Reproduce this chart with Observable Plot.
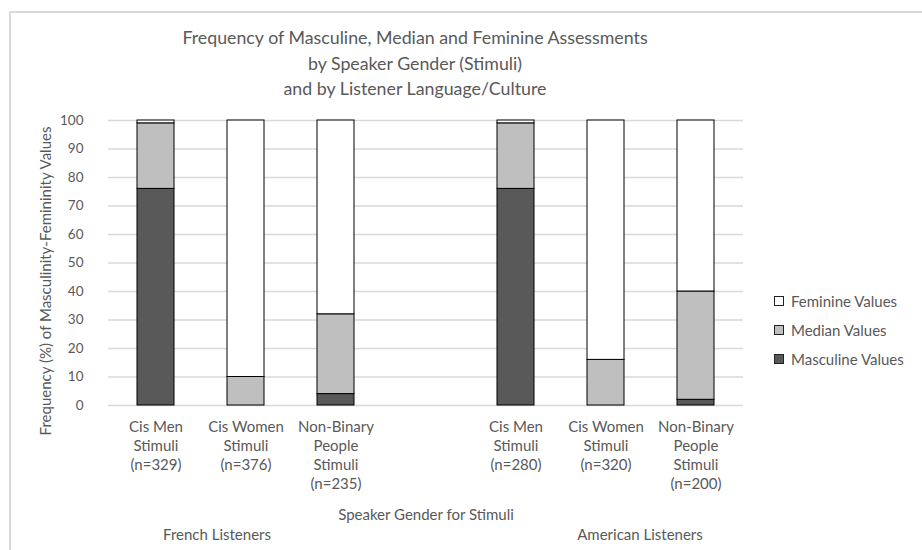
<!DOCTYPE html>
<html>
<head>
<meta charset="utf-8">
<script src="https://cdn.jsdelivr.net/npm/d3@7"></script>
<script src="https://cdn.jsdelivr.net/npm/@observablehq/plot@0.6"></script>
<style>
  html, body { margin: 0; padding: 0; background: #fff; overflow: hidden; }
  #wrap { position: relative; width: 922px; height: 550px; overflow: hidden; font-family: Lato, "Open Sans", sans-serif; color: #595959; }
  #border { position: absolute; left: 9px; top: 11px; width: 1000px; height: 700px; border-left: 2px solid #d9d9d9; border-top: 2px solid #d9d9d9; }
  #title { position: absolute; left: 0; top: 25px; width: 830px; text-align: center; font-size: 17.8px; line-height: 25.5px; }
  #chart { position: absolute; left: 0; top: 100px; }
  #legend { position: absolute; left: 774px; top: 286px; font-size: 15px; }
  .li { display: flex; align-items: center; height: 29.3px; }
  .sw { width: 8px; height: 8px; border: 1px solid #222; margin-right: 7px; }
</style>
</head>
<body>
<div id="wrap">
  <div id="border"></div>
  <div id="title"></div>
  <div id="chart"></div>
  <div id="legend"></div>
</div>
<script>
// ---- data ----
const titleLines = [
  "Frequency of Masculine, Median and Feminine Assessments",
  "by Speaker Gender (Stimuli)",
  "and by Listener Language/Culture"
];
const categories = ["FR Cis Men", "FR Cis Women", "FR Non-Binary", "gap", "US Cis Men", "US Cis Women", "US Non-Binary"];
const tickLabels = [
  "Cis Men\nStimuli\n(n=329)",
  "Cis Women\nStimuli\n(n=376)",
  "Non-Binary\nPeople\nStimuli\n(n=235)",
  "",
  "Cis Men\nStimuli\n(n=280)",
  "Cis Women\nStimuli\n(n=320)",
  "Non-Binary\nPeople\nStimuli\n(n=200)"
];
const seriesNames = ["Masculine Values", "Median Values", "Feminine Values"];
const seriesColors = ["#595959", "#bfbfbf", "#ffffff"];
const masculine = [76, 0, 4, null, 76, 0, 2];
const median    = [23, 10, 28, null, 23, 16, 38];
const feminine  = [1, 90, 68, null, 1, 84, 60];
const yTicks = [0, 10, 20, 30, 40, 50, 60, 70, 80, 90, 100];
const yTitle = "Frequency (%) of Masculinity-Femininity Values";
const xTitle = "Speaker Gender for Stimuli";
const groupLabels = ["French Listeners", "American Listeners"];
const groupCats = ["FR Cis Women", "US Cis Women"];
const groupOffsets = [-29, 34];

// ---- build ----
document.getElementById("title").innerHTML = titleLines.map(t => `<div>${t}</div>`).join("");

const seriesValues = [masculine, median, feminine];
const rows = [];
categories.forEach((c, i) => {
  seriesNames.forEach((s, k) => {
    const v = seriesValues[k][i];
    if (v != null) rows.push({cat: c, series: s, value: v});
  });
});
const catRows = categories.map((c, i) => ({cat: c, label: tickLabels[i]}));
const groupRows = groupLabels.map((g, i) => ({cat: groupCats[i], label: g, dx: groupOffsets[i]}));

const plot = Plot.plot({
  width: 922,
  height: 450,
  marginTop: 20,
  marginBottom: 145,
  marginLeft: 108,
  marginRight: 179,
  style: {fontFamily: "Lato, 'Open Sans', sans-serif", color: "#595959", fontSize: "13px", overflow: "visible", background: "transparent"},
  x: {domain: categories, paddingInner: 0.59, paddingOuter: 0.295, axis: null},
  y: {domain: [0, 100], axis: null},
  color: {domain: seriesNames, range: seriesColors},
  marks: [
    Plot.gridY(yTicks, {stroke: "#d9d9d9", strokeOpacity: 1, strokeWidth: 1.3}),
    Plot.axisY(yTicks, {tickSize: 0, tickPadding: 25, label: null, fontSize: 13.5, fill: "#595959"}),
    Plot.barY(rows, {x: "cat", y: "value", fill: "series", stroke: "#000", strokeWidth: 1, order: seriesNames}),
    Plot.text(catRows, {x: "cat", text: "label", frameAnchor: "bottom", lineAnchor: "top", dy: 13, lineHeight: 1.27, fontSize: 15, fill: "#595959"}),
    Plot.text([xTitle], {text: d => d, frameAnchor: "bottom", dy: 114, fontSize: 15, fill: "#595959"}),
    ...groupRows.map(g => Plot.text([g], {x: "cat", text: "label", dx: g.dx, frameAnchor: "bottom", dy: 134, fontSize: 15, fill: "#595959"})),
    Plot.text([yTitle], {text: d => d, frameAnchor: "left", textAnchor: "middle", rotate: -90, dx: -62, dy: 18, fontSize: 15, fill: "#595959"})
  ]
});
document.getElementById("chart").appendChild(plot);

// legend (top to bottom: Feminine, Median, Masculine)
const legend = document.getElementById("legend");
[2, 1, 0].forEach(k => {
  const item = document.createElement("div");
  item.className = "li";
  item.innerHTML = `<span class="sw" style="background:${seriesColors[k]}"></span><span>${seriesNames[k]}</span>`;
  legend.appendChild(item);
});
</script>
</body>
</html>
